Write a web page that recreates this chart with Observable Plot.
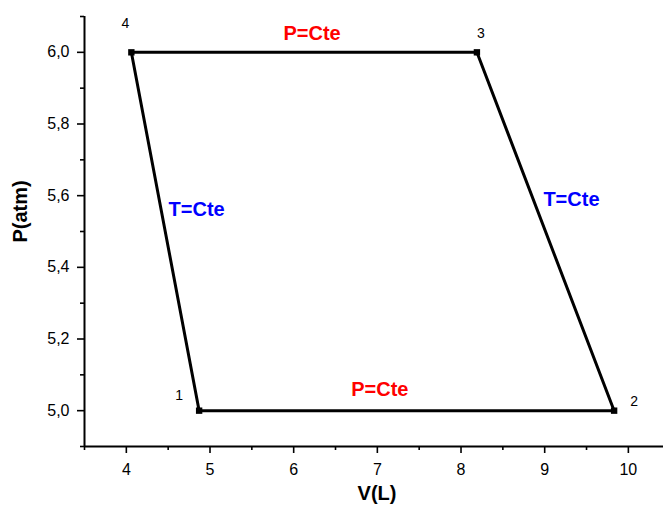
<!DOCTYPE html>
<html>
<head>
<meta charset="utf-8">
<script src="https://cdn.jsdelivr.net/npm/d3@7"></script>
<script src="https://cdn.jsdelivr.net/npm/@observablehq/plot@0.6"></script>
<style>
  body { margin: 0; background: #fff; }
  #chart svg { display: block; }
</style>
</head>
<body>
<div id="chart"></div>
<script>
// Cycle states (V in L, P in atm)
const stateLabels = ["1", "2", "3", "4"];
const volume = [4.87, 9.83, 8.19, 4.06];
const pressure = [5.0, 5.0, 6.0, 6.0];

// Process annotations
const annotText = ["P=Cte", "P=Cte", "T=Cte", "T=Cte"];
const annotColor = ["#ff0000", "#ff0000", "#0000ff", "#0000ff"];
const annotV = [6.22, 7.03, 4.84, 9.32];
const annotP = [6.053, 5.059, 5.56, 5.59];

const xMajor = [4, 5, 6, 7, 8, 9, 10];
const xMinor = [3.5, 4.5, 5.5, 6.5, 7.5, 8.5, 9.5];
const yMajor = [5.0, 5.2, 5.4, 5.6, 5.8, 6.0];
const yMinor = [4.9, 5.1, 5.3, 5.5, 5.7, 5.9, 6.1];

const states = stateLabels.map((s, i) => ({label: s, V: volume[i], P: pressure[i]}));
const annots = annotText.map((t, i) => ({text: t, color: annotColor[i], V: annotV[i], P: annotP[i]}));

const font = "Liberation Sans, Arial, sans-serif";
const fmt = d => d.toFixed(1).replace(".", ",");

const labelOffsets = [[-20, -15], [20, -9], [4, -19], [-6, -29]];

const chart = Plot.plot({
  width: 663,
  height: 513,
  marginLeft: 84,
  marginRight: 0,
  marginTop: 16,
  marginBottom: 67,
  style: {fontFamily: font, background: "#fff", color: "#000"},
  x: {domain: [3.5, 10.42], label: null},
  y: {domain: [4.9, 6.1], label: null},
  marks: [
    Plot.axisX({ticks: xMajor, tickSize: 7, tickPadding: 10, fontSize: 16, tickFormat: d => String(d), stroke: "#000", strokeWidth: 1.6, strokeOpacity: 1, fill: "#000"}),
    Plot.axisX({ticks: xMinor, tickSize: 4, text: null, stroke: "#000", strokeWidth: 1.6, strokeOpacity: 1}),
    Plot.axisY({ticks: yMajor, tickSize: 7, tickPadding: 8, fontSize: 16, tickFormat: fmt, stroke: "#000", strokeWidth: 1.6, strokeOpacity: 1, fill: "#000"}),
    Plot.axisY({ticks: yMinor, tickSize: 4, text: null, stroke: "#000", strokeWidth: 1.6, strokeOpacity: 1}),
    Plot.ruleX([3.5], {y1: 4.9, y2: 6.1, stroke: "#000", strokeWidth: 2}),
    Plot.ruleY([4.9], {x1: 3.5, x2: 10.42, stroke: "#000", strokeWidth: 2}),
    Plot.line(states, {x: "V", y: "P", curve: "linear-closed", stroke: "#000", strokeWidth: 3}),
    Plot.dot(states, {x: "V", y: "P", symbol: "square", r: 3.6, fill: "#000"}),
    ...states.map((s, i) => Plot.text([s], {
      x: "V", y: "P", text: "label", fontSize: 14, fill: "#000",
      dx: labelOffsets[i][0], dy: labelOffsets[i][1]
    })),
    Plot.text(annots, {x: "V", y: "P", text: "text", fill: "color", fontSize: 20, fontWeight: "bold"}),
    Plot.text(["V(L)"], {frameAnchor: "bottom", dx: 3, dy: 53, fontSize: 20, fontWeight: "bold", fill: "#000"}),
    Plot.text(["P(atm)"], {frameAnchor: "left", dx: -64, dy: 11, rotate: -90, fontSize: 20, fontWeight: "bold", fill: "#000"})
  ]
});

document.getElementById("chart").appendChild(chart);
</script>
</body>
</html>
